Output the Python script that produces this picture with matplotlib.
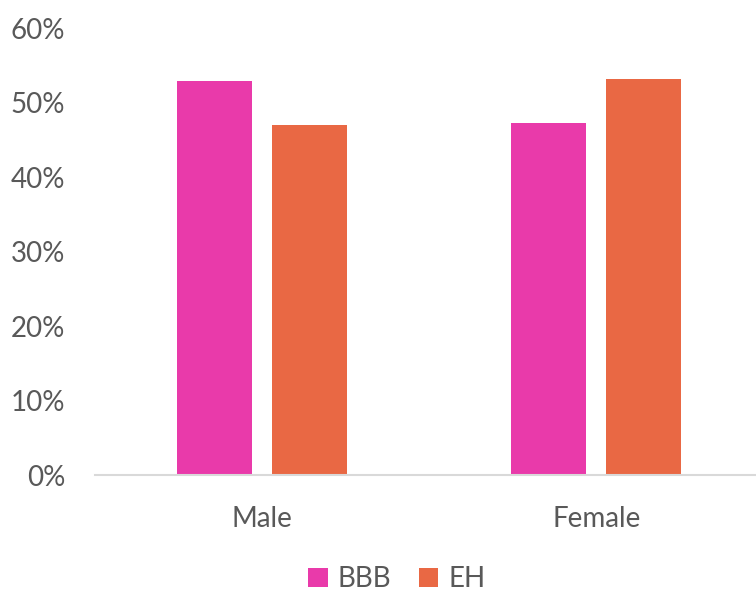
import matplotlib
matplotlib.use('Agg')

import matplotlib.pyplot as plt
import numpy as np

# ---------------- DATA ----------------
categories = ["Male", "Female"]
bbb_values = [52.9, 47.3]
eh_values = [47.0, 53.2]
series_names = ["BBB", "EH"]
yticks = [0, 10, 20, 30, 40, 50, 60]

# ---------------- STYLE ----------------
pink = '#E93AAA'
orange = '#E96844'
grey_text = '#595959'
plt.rcParams['font.family'] = ['Lato', 'DejaVu Sans']

fig = plt.figure(figsize=(7.56, 5.92), dpi=100)
ax = fig.add_axes([0.126, 0.1976, 0.8836, 0.7551])

x = np.arange(len(categories))
w = 0.225
gap = 0.06
ax.bar(x - (w + gap) / 2, bbb_values, width=w, color=pink, label=series_names[0])
ax.bar(x + (w + gap) / 2, eh_values, width=w, color=orange, label=series_names[1])

ax.set_xlim(-0.5, len(categories) - 0.5)
ax.set_ylim(0, 60)
ax.set_yticks(yticks)
ax.set_yticklabels([f"{t}%" for t in yticks])
ax.set_xticks(x)
ax.set_xticklabels(categories)

for s in ['top', 'right', 'left']:
    ax.spines[s].set_visible(False)
ax.spines['bottom'].set_color('#D9D9D9')
ax.spines['bottom'].set_linewidth(1.5)
ax.tick_params(axis='both', length=0, labelsize=20, colors=grey_text)
ax.tick_params(axis='x', pad=22)
ax.tick_params(axis='y', pad=21.5)

leg = fig.legend(loc='center', bbox_to_anchor=(0.525, 0.022), ncol=2, frameon=False,
                 fontsize=20, handlelength=0.7, handleheight=0.7, handletextpad=0.35,
                 columnspacing=1.0)
for t in leg.get_texts():
    t.set_color(grey_text)

fig.savefig('out.png', dpi=100)
